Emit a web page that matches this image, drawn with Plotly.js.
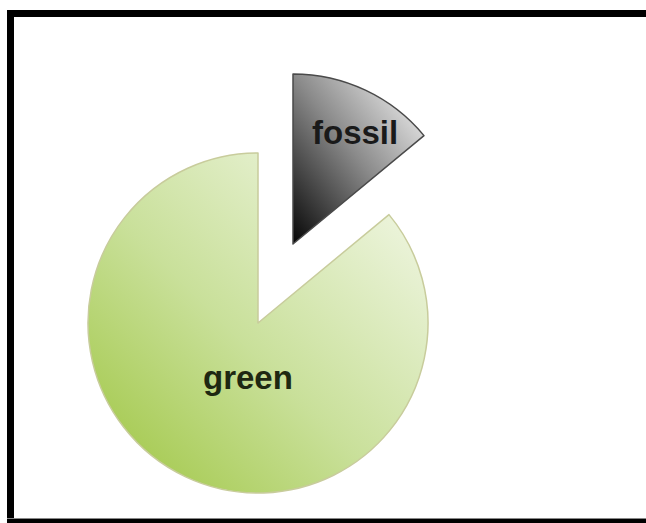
<!DOCTYPE html>
<html><head><meta charset="utf-8">
<script src="https://cdn.plot.ly/plotly-3.0.1.min.js"></script>
<style>html,body{margin:0;padding:0;background:#fff;overflow:hidden}#chart{width:646px;height:523px}</style>
</head><body><div id="chart"></div>
<script>
// Data
const labels = ['fossil', 'green'];
const values = [14, 86];
// Styles
const sliceColors = ['#7a7a7a', '#c6dd92'];
const outlineColors = ['#4a4a4a', '#c8cc9c'];
const gradients = {
  fossil: [['0', '#050505'], ['0.5', '#8a8a8a'], ['1', '#ffffff']],
  green: [['0', '#9cc43c'], ['0.45', '#c9e09a'], ['1', '#f7faf0']]
};

const W = 646, H = 523;
const R = 170;
function dom(cx, cy) {
  return {x: [(cx - R) / W, (cx + R) / W], y: [(H - cy - R) / H, (H - cy + R) / H]};
}
const transparent = 'rgba(0,0,0,0)';
// Trace 0 shows the green slice in place; trace 1 shows the fossil slice pulled out.
function pieTrace(showIdx, domain) {
  return {
    type: 'pie', labels: labels, values: values, sort: false,
    direction: 'clockwise', rotation: 0, textinfo: 'none', hoverinfo: 'label+percent',
    showlegend: false, domain: domain,
    marker: {
      colors: labels.map((l, i) => i === showIdx ? sliceColors[i] : transparent),
      line: {color: labels.map((l, i) => i === showIdx ? outlineColors[i] : transparent), width: 1.5}
    }
  };
}
const data = [pieTrace(1, dom(258, 323)), pieTrace(0, dom(293, 244))];

const labelPos = [[355, 132], [248, 377]];
const annotations = labels.map((l, i) => ({
  text: '<b>' + l + '</b>', showarrow: false, xref: 'paper', yref: 'paper',
  x: labelPos[i][0] / W, y: 1 - labelPos[i][1] / H, xanchor: 'center', yanchor: 'middle',
  font: {family: 'Liberation Sans, Arial, sans-serif', size: 33, color: i === 0 ? '#1a1a1a' : '#1e2812'}
}));

function rect(x0, y0, x1, y1, c) {
  return {type: 'rect', xref: 'paper', yref: 'paper', x0: x0 / W, x1: x1 / W,
    y0: 1 - y1 / H, y1: 1 - y0 / H, fillcolor: c, line: {width: 0}, layer: 'above'};
}
const layout = {
  width: W, height: H, margin: {l: 0, r: 0, t: 0, b: 0},
  paper_bgcolor: '#ffffff', plot_bgcolor: '#ffffff',
  annotations: annotations,
  shapes: [
    rect(7, 10, 646, 17, '#000'),
    rect(7, 10, 14, 523, '#000'),
    rect(7, 518, 646, 519, '#888'),
    rect(7, 519, 646, 523, '#000')
  ]
};

Plotly.newPlot('chart', data, layout, {displayModeBar: false, staticPlot: true}).then(gd => {
  const svgNS = 'http://www.w3.org/2000/svg';
  const defs = document.querySelector('svg.main-svg defs');
  labels.forEach(l => {
    const g = document.createElementNS(svgNS, 'linearGradient');
    g.setAttribute('id', 'grad-' + l);
    g.setAttribute('x1', '0'); g.setAttribute('y1', '1');
    g.setAttribute('x2', '1'); g.setAttribute('y2', '0');
    gradients[l].forEach(s => {
      const st = document.createElementNS(svgNS, 'stop');
      st.setAttribute('offset', s[0]); st.setAttribute('stop-color', s[1]);
      g.appendChild(st);
    });
    defs.appendChild(g);
  });
  const traces = document.querySelectorAll('g.pielayer g.trace');
  const shown = [1, 0];
  traces.forEach((t, ti) => {
    const paths = t.querySelectorAll('g.slice path.surface');
    const idx = shown[ti];
    if (paths[idx]) paths[idx].style.fill = 'url(#grad-' + labels[idx] + ')';
  });
});
</script></body></html>
